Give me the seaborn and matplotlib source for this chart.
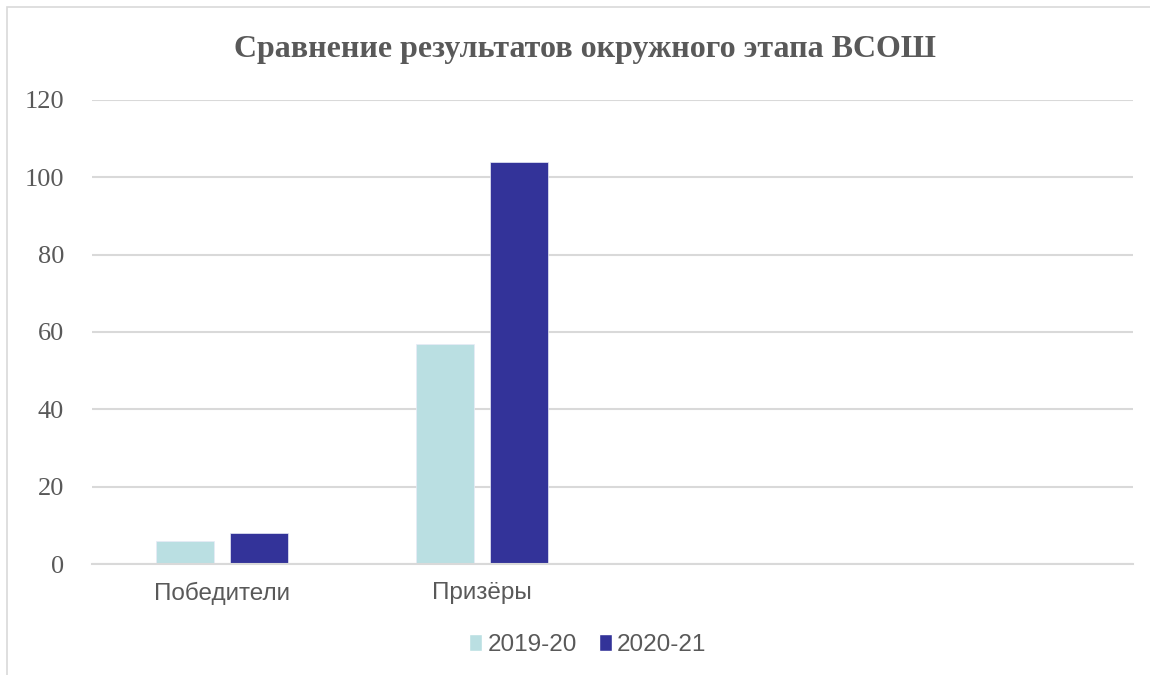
"""
Сравнение результатов окружного этапа ВСОШ
- grouped bar chart, two school years
"""

import pandas as pd
import matplotlib.pyplot as plt
import seaborn as sns
from matplotlib.patches import Rectangle

# Data
categories = ["Победители", "Призёры"]
years = ["2019-20", "2020-21"]
values_2019 = [6, 57]
values_2020 = [8, 104]
y_ticks = [0, 20, 40, 60, 80, 100, 120]

colors = ["#BADFE2", "#333399"]
GRID = "#D9D9D9"
TEXT = "#595959"


def build_frame():
    """Long table for seaborn"""
    rows = []
    for year, vals in zip(years, [values_2019, values_2020]):
        for cat, v in zip(categories, vals):
            rows.append({"category": cat, "year": year, "value": v})
    return pd.DataFrame(rows)


def main():
    df = build_frame()

    sns.set_theme(style="white")
    fig = plt.figure(figsize=(11.5, 6.75), dpi=100)
    ax = fig.add_axes([0.08, 0.1644, 0.905, 0.6875])

    sns.barplot(data=df, x="category", y="value", hue="year", order=categories,
                hue_order=years, palette=colors, saturation=1, width=0.569, gap=0.216,
                edgecolor="#E8EAF6", linewidth=0.5, ax=ax, legend=False)

    # axis spans four category slots, only two are filled
    ax.set_xlim(-0.5, 3.5)
    ax.set_ylim(0, 120)
    ax.set_yticks(y_ticks)
    ax.set_yticklabels([str(t) for t in y_ticks], family="Liberation Serif",
                       fontsize=19, color=TEXT)
    ax.set_xticks(range(len(categories)))
    ax.set_xticklabels(categories, family="Liberation Sans", fontsize=17.5, color=TEXT)
    ax.tick_params(axis="both", length=0)
    ax.tick_params(axis="y", pad=20)
    ax.tick_params(axis="x", pad=13)
    ax.set_xlabel("")
    ax.set_ylabel("")

    ax.yaxis.grid(True, color=GRID, linewidth=1.5)
    ax.set_axisbelow(True)
    for side in ["top", "right", "left"]:
        ax.spines[side].set_visible(False)
    ax.spines["bottom"].set_color(GRID)
    ax.spines["bottom"].set_linewidth(1.5)

    fig.text(0.509, 0.927, "Сравнение результатов окружного этапа ВСОШ",
             ha="center", va="center", family="Liberation Serif",
             fontweight="bold", fontsize=23, color=TEXT)

    # legend
    handles = [Rectangle((0, 0), 1, 1, facecolor=c) for c in colors]
    leg = fig.legend(handles, years, loc="center", bbox_to_anchor=(0.511, 0.044),
                     ncol=2, frameon=False, handlelength=0.55, handleheight=0.7,
                     handletextpad=0.2, columnspacing=0.9,
                     prop={"family": "Liberation Sans", "size": 17.5})
    for t in leg.get_texts():
        t.set_color(TEXT)

    # chart frame
    fig.patches.append(Rectangle((7 / 1150, -0.05), 1.2, 0.05 + 668 / 675,
                                 transform=fig.transFigure, fill=False,
                                 edgecolor=GRID, linewidth=1.2, clip_on=False))

    fig.savefig("out.png", dpi=100, facecolor="white")


if __name__ == "__main__":
    main()
